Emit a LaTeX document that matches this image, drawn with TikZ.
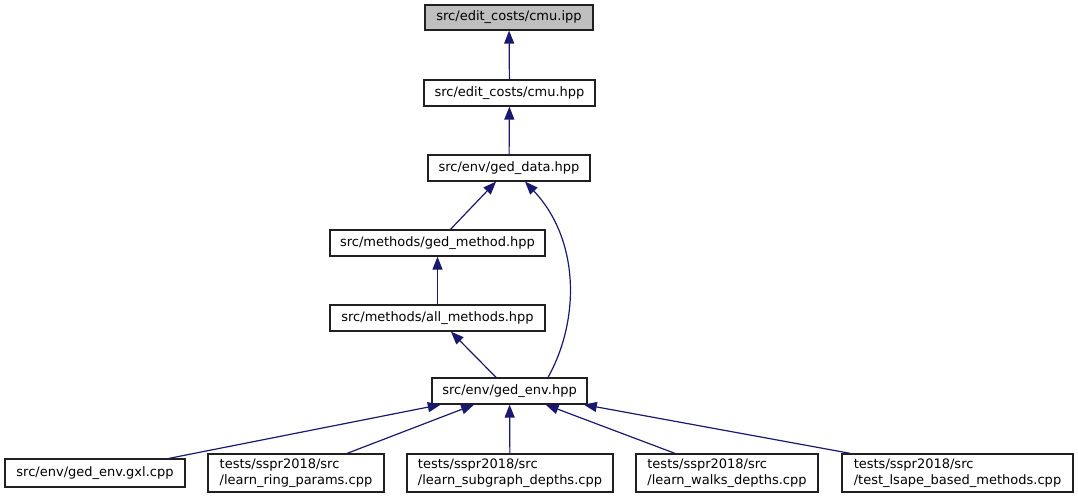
\documentclass[tikz,border=0pt]{standalone}
\usepackage{fontspec}
\setmainfont{DejaVu Sans}
\usetikzlibrary{arrows.meta}
\definecolor{EdgeBlue}{HTML}{191970}
\definecolor{RootGray}{HTML}{BFBFBF}
\definecolor{BoxLine}{HTML}{202020}

\begin{document}
\begin{tikzpicture}[x=1pt, y=1pt,
  font=\fontsize{13}{16}\selectfont,
  filebox/.style={draw=BoxLine, line width=1.2pt, fill=white, inner sep=0pt,
              minimum height=26pt},
  rootbox/.style={filebox, fill=RootGray},
  twobox/.style={filebox, minimum height=38pt, align=left},
  dep/.style={EdgeBlue, line width=1.2pt},
  >={Triangle[length=13pt, width=10pt]}]
\useasboundingbox (0,0) rectangle (1078,-500);
% upper chain
\node[rootbox, minimum width=168pt, minimum height=25pt] (ipp) at (509,-17.5) {src/edit\_costs/cmu.ipp};
\node[filebox, minimum width=171pt] (cmuhpp) at (509.5,-93) {src/edit\_costs/cmu.hpp};
\node[filebox, minimum width=162pt] (geddata) at (509,-168) {src/env/ged\_data.hpp};
\node[filebox, minimum width=215pt] (gedmethod) at (437.5,-243) {src/methods/ged\_method.hpp};
\node[filebox, minimum width=215pt] (allmethods) at (437.5,-318) {src/methods/all\_methods.hpp};
\node[filebox, minimum width=155pt] (gedenv) at (509.5,-391) {src/env/ged\_env.hpp};
% bottom row
\node[filebox, minimum width=180pt, minimum height=28pt] (gxl) at (95,-473) {src/env/ged\_env.gxl.cpp};
\node[twobox, minimum width=176pt] (ringparams) at (296,-473) {tests/sspr2018/src\\/learn\_ring\_params.cpp};
\node[twobox, minimum width=206pt] (subgraph) at (510,-473) {tests/sspr2018/src\\/learn\_subgraph\_depths.cpp};
\node[twobox, minimum width=182pt] (walks) at (727,-473) {tests/sspr2018/src\\/learn\_walks\_depths.cpp};
\node[twobox, minimum width=231pt] (lsape) at (957.5,-473) {tests/sspr2018/src\\/test\_lsape\_based\_methods.cpp};
% includes
\draw[dep, <-] (ipp) -- (cmuhpp);
\draw[dep, <-] (cmuhpp) -- (geddata);
\draw[dep, <-] (geddata) -- (gedmethod);
\draw[dep, <-] (gedmethod) -- (allmethods);
\draw[dep, <-] (allmethods) -- (gedenv);
\draw[dep, <-] ([xshift=16pt]geddata.south) .. controls (580,-240) and (580,-320) .. ([xshift=38.5pt]gedenv.north);
\foreach \f in {gxl, ringparams, subgraph, walks, lsape}
  \draw[dep, <-] (gedenv) -- (\f);
\end{tikzpicture}
\end{document}
